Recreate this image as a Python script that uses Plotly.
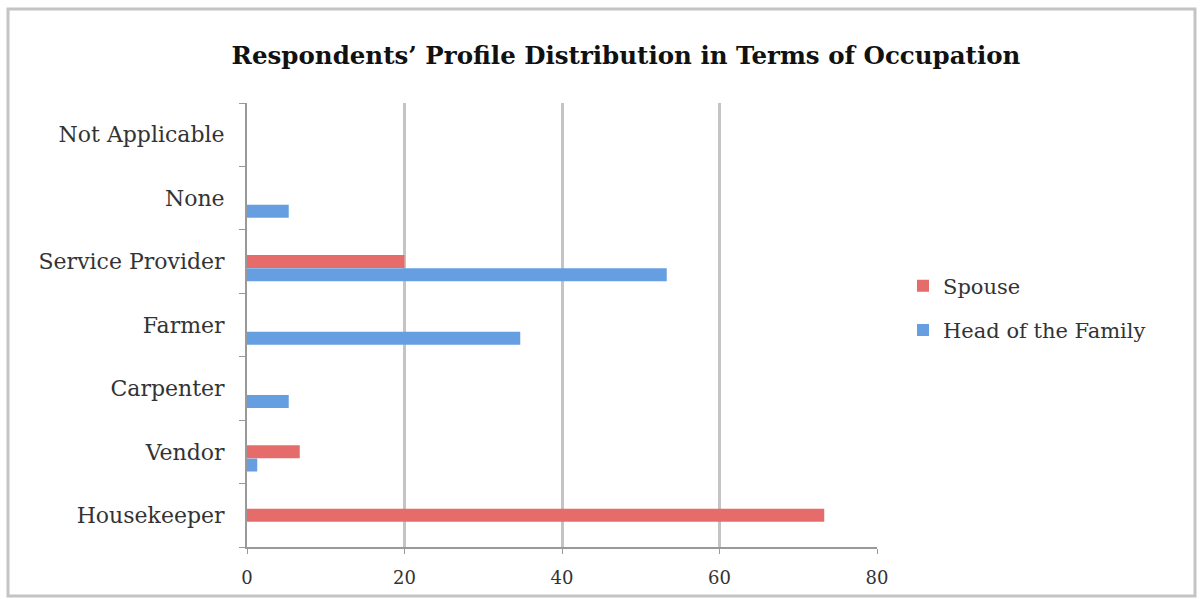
import plotly.graph_objects as go

categories = ["Housekeeper", "Vendor", "Carpenter", "Farmer", "Service Provider", "None", "Not Applicable"]
spouse = [73.3, 6.7, 0, 0, 20, 0, 0]
head_of_family = [0, 1.3, 5.3, 34.7, 53.3, 5.3, 0]
x_ticks = [0, 20, 40, 60, 80]

W, H = 1202, 599
L, R, T, B = 247, 325, 103, 52
pw, ph = W - L - R, H - T - B

def px2x(px):
    return (px - L) / pw

def px2y(py):
    return (H - B - py) / ph

fig = go.Figure()
fig.add_trace(go.Bar(y=categories, x=head_of_family, orientation="h", name="Head of the Family",
                     legendgroup="h", legendrank=2, offset=-0.31, width=0.205,
                     marker=dict(color="#659fe2", line=dict(width=0))))
fig.add_trace(go.Bar(y=categories, x=spouse, orientation="h", name="Spouse",
                     legendgroup="s", legendrank=1, offset=-0.1, width=0.205,
                     marker=dict(color="#e66b6b", line=dict(width=0))))

fig.update_layout(
    width=W, height=H,
    margin=dict(l=L, r=R, t=T, b=B),
    paper_bgcolor="white", plot_bgcolor="white",
    barmode="group", bargap=0.58, bargroupgap=0,
    title=dict(text="<b>Respondents’ Profile Distribution in Terms of Occupation</b>",
               x=px2x(626), xref="paper", xanchor="center",
               y=1 - 55 / H, yanchor="middle",
               font=dict(family="DejaVu Serif", size=24.5, color="#111")),
    legend=dict(traceorder="grouped", x=px2x(903), xanchor="left", y=px2y(308), yanchor="middle",
                font=dict(family="DejaVu Serif", size=21, color="#333"),
                itemwidth=30, tracegroupgap=14, bgcolor="rgba(0,0,0,0)"),
    font=dict(family="DejaVu Serif", size=17, color="#333"),
    showlegend=True,
)
fig.update_xaxes(range=[0, 80], tickvals=x_ticks, showgrid=True, gridcolor="#c4c4c4", gridwidth=3,
                 showline=True, linecolor="#999", linewidth=2, ticks="outside", ticklen=5,
                 tickcolor="#999", zeroline=False, ticklabelstandoff=8,
                 tickfont=dict(family="DejaVu Serif", size=18, color="#333"))
fig.update_yaxes(categoryorder="array", categoryarray=categories, showgrid=False,
                 showline=True, linecolor="#999", linewidth=2, ticks="outside", ticklen=6,
                 tickcolor="#999", tickson="boundaries", ticklabelstandoff=16,
                 tickfont=dict(family="DejaVu Serif", size=22, color="#333"))

fig.add_shape(type="rect", xref="paper", yref="paper",
              x0=px2x(8), x1=px2x(1195), y0=px2y(596), y1=px2y(9),
              line=dict(color="#c4c4c4", width=3), fillcolor="rgba(0,0,0,0)", layer="below")

fig.write_html("out.html", config={"displayModeBar": False},
               post_script="document.body.style.margin='0';document.body.style.overflow='hidden';")
